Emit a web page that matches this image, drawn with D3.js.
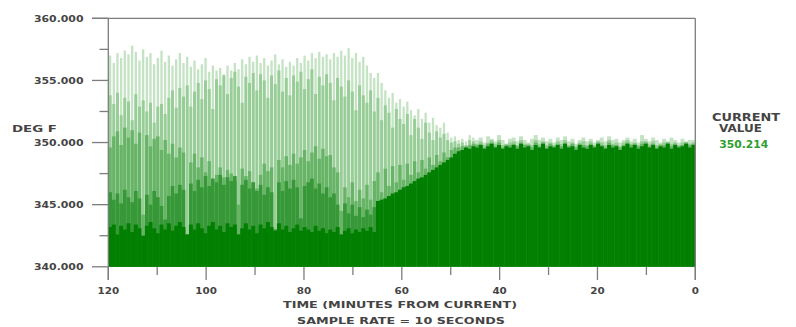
<!DOCTYPE html>
<html>
<head>
<meta charset="utf-8">
<script src="https://cdn.jsdelivr.net/npm/d3@7"></script>
<style>
  body { margin: 0; background: #fff; }
  svg text { font-family: "DejaVu Sans", Verdana, sans-serif; font-weight: bold; fill: #444; }
</style>
</head>
<body>
<svg id="chart" width="796" height="327"></svg>
<script>
// Trend history: one bar per 45 s, oldest (120 min ago) first.
const barMinutes = 0.75;
// From this bar on the loop has settled and the swing bands collapse
const settledFrom = 100;

// Highest reading within each bar interval (°F)
const peak = [
  357.0, 356.4, 357.2, 356.8, 357.4, 357.1, 357.8, 357.3, 356.6, 357.5,
  356.9, 357.2, 356.3, 356.8, 357.4, 356.5, 357.0, 356.2, 356.7, 357.2,
  356.4, 356.9, 356.1, 356.6, 355.9, 356.3, 356.8, 355.7, 356.2, 355.8,
  356.0, 355.5, 356.2, 355.8, 356.4, 355.9, 356.7, 356.3, 356.9, 356.5,
  357.0, 356.4, 356.8, 356.2, 356.6, 357.1, 356.3, 356.7, 356.1, 356.5,
  356.2, 356.8, 356.4, 357.0, 356.6, 357.2, 356.8, 357.3, 356.9, 357.1,
  356.7, 357.2, 356.9, 357.4, 357.0, 357.6, 356.8, 357.2, 356.5, 356.9,
  356.2, 355.6, 355.2, 355.6, 354.8, 354.2, 353.6, 354.0, 353.2, 353.5,
  352.9, 353.3, 352.6, 352.2, 352.7, 351.9, 352.4, 351.6, 352.0, 351.4,
  351.2, 351.6, 350.8, 350.4, 350.5, 350.2, 350.3, 350.1, 350.6, 350.4,
  350.2, 350.4, 350.0, 350.5, 350.3, 350.1, 350.6, 350.2, 349.9, 350.3,
  350.4, 350.1, 350.5, 350.2, 350.0, 350.3, 350.6, 350.2, 350.4, 350.1,
  350.3, 350.0, 350.4, 350.2, 350.5, 350.1, 350.3, 349.9, 350.2, 350.4,
  350.1, 350.3, 350.0, 350.2, 350.4, 350.1, 350.5, 350.2, 350.3, 350.0,
  350.2, 350.4, 350.1, 350.3, 350.0, 350.6, 350.3, 350.1, 350.4, 350.2,
  350.0, 350.3, 350.1, 350.4, 350.2, 350.0, 350.3, 350.1, 350.2, 350.214
];

// Upper quartile of the readings
const upper = [
  353.8, 353.1, 354.0, 352.2, 353.6, 353.3, 351.8, 353.9, 352.9, 353.4,
  352.5, 353.2, 351.6, 352.9, 353.1, 352.3, 353.6, 354.2, 352.8, 354.4,
  353.7, 354.6, 352.9, 354.1, 354.8, 353.5, 355.0, 354.3, 352.7, 355.1,
  354.6, 355.4, 353.9, 355.2, 355.7, 354.5, 353.2, 355.3, 354.8, 355.6,
  354.2, 355.5, 355.0, 353.6, 355.4, 354.7, 355.8, 354.1, 355.2, 353.8,
  355.4, 354.9, 355.7, 354.3, 355.1, 355.9, 353.9, 355.3, 354.6, 355.5,
  354.8, 353.4, 355.2, 354.5, 353.7, 355.0, 354.1, 352.6, 354.6, 353.8,
  353.2, 354.2, 352.5, 353.6, 351.8, 353.0, 352.4, 351.2, 352.7, 351.9,
  351.5, 352.3, 350.6, 351.9, 351.2, 350.3, 351.6, 350.8, 350.2, 350.9,
  350.4, 350.7, 350.2, 350.0, 350.1, 349.9, 350.0, 349.8, 350.2, 350.1,
  349.9, 350.1, 349.8, 350.0, 350.2, 349.9, 350.2, 349.8, 349.9, 350.0,
  350.1, 349.8, 350.2, 349.9, 349.9, 349.8, 350.2, 349.9, 350.1, 349.8,
  350.0, 349.8, 350.1, 349.9, 350.2, 349.8, 350.0, 349.7, 350.0, 350.1,
  349.8, 350.1, 349.8, 350.1, 350.0, 349.8, 350.2, 349.9, 350.0, 349.7,
  350.0, 350.2, 349.9, 350.0, 349.8, 350.1, 350.1, 349.9, 350.1, 349.8,
  349.9, 350.0, 350.0, 349.9, 350.0, 349.8, 350.0, 350.0, 349.9, 350.0
];

// Median of the readings
const middle = [
  349.6, 350.5, 350.9, 349.8, 351.2, 350.4, 351.0, 349.9, 350.8, 344.2,
  350.6, 349.7, 350.3, 350.5, 349.4, 350.2, 349.1, 349.9, 348.8, 349.6,
  349.2, 342.6, 348.4, 349.1, 348.0, 348.8, 347.6, 348.5, 345.9, 347.4,
  348.0, 347.2, 347.8, 347.5, 346.9, 345.0, 347.9, 347.3, 347.7, 346.8,
  346.3, 347.4, 348.3, 347.7, 348.0, 343.0, 348.6, 348.0, 348.9, 348.2,
  349.1, 348.3, 348.8, 349.4, 348.5, 349.2, 349.7, 348.7, 349.5, 348.9,
  349.0, 348.0, 347.6, 344.5, 346.4, 345.6, 346.8, 345.3, 346.2, 345.5,
  346.6, 345.4, 346.9, 347.6, 346.0, 347.9, 346.5, 348.1, 346.8, 348.2,
  347.0, 348.3, 347.4, 348.5, 347.6, 348.6, 347.9, 348.8, 348.2, 349.0,
  348.5, 349.2, 348.8, 349.4, 349.6, 349.6, 349.7, 349.7, 349.8, 349.9,
  349.8, 349.9, 349.6, 349.9, 350.0, 349.7, 350.0, 349.6, 349.8, 349.8,
  349.9, 349.7, 350.0, 349.8, 349.8, 349.6, 350.0, 349.7, 350.0, 349.6,
  349.9, 349.7, 349.9, 349.7, 350.0, 349.7, 349.9, 349.6, 349.9, 349.8,
  349.7, 349.9, 349.7, 350.0, 349.8, 349.6, 350.0, 349.8, 349.8, 349.6,
  349.8, 350.0, 349.8, 349.9, 349.7, 349.9, 350.0, 349.7, 349.9, 349.6,
  349.8, 349.8, 350.0, 349.7, 349.9, 349.7, 349.8, 350.0, 349.8, 349.9
];

// Lower quartile of the swing while the loop was oscillating
const lower = [
  346.0, 345.4, 345.9, 345.1, 346.2, 345.6, 345.2, 346.1, 345.5, 342.5,
  345.8, 345.0, 346.1, 345.6, 344.9, 343.8, 345.7, 346.5, 345.9, 346.6,
  346.2, 342.6, 346.7, 346.1, 347.0, 346.4, 347.3, 346.5, 347.1, 346.8,
  347.4, 346.6, 347.2, 346.9, 347.3, 342.6, 346.6, 347.0, 346.3, 346.8,
  346.1, 346.6, 345.8, 346.4, 346.0, 343.0, 346.8, 346.1, 346.9, 346.3,
  347.0, 346.4, 343.9, 346.5, 346.8, 347.1, 346.3, 346.7, 345.9, 346.4,
  345.6, 345.9, 345.0, 342.6, 345.1, 344.3, 345.0, 344.1, 344.8, 344.0,
  344.6, 344.2, 344.8
];

// Lowest reading within each bar interval
const floor = [
  343.2, 343.4, 342.6, 343.3, 343.0, 343.5, 342.8, 343.4, 343.1, 342.5,
  343.3, 343.6, 343.1, 342.7, 343.4, 343.0, 343.5, 342.9, 343.3, 343.6,
  343.2, 342.6, 343.4, 343.0, 343.5, 343.1, 342.7, 343.3, 343.6, 343.0,
  343.3, 342.8, 343.5, 343.2, 343.4, 342.6, 343.1, 343.5, 343.0, 343.3,
  342.7, 343.4, 343.1, 343.6, 343.2, 342.9, 343.5, 343.0, 343.3, 342.8,
  343.1, 343.4, 342.9, 343.2, 343.0, 342.8, 343.3, 342.9, 343.1, 342.7,
  343.0, 342.8, 343.2, 342.6, 342.9, 343.1, 342.7, 343.0, 342.8, 343.1,
  342.9, 343.2, 342.8, 345.3, 345.4, 345.5, 345.7, 345.9, 346.0, 346.2,
  346.4, 346.5, 346.7, 346.9, 347.1, 347.2, 347.4, 347.6, 347.8, 348.0,
  348.2, 348.4, 348.6, 348.8, 349.1, 349.3, 349.4, 349.6, 349.5, 349.7,
  349.6, 349.8, 349.5, 349.7, 349.9, 349.6, 349.8, 349.5, 349.7, 349.6,
  349.8, 349.5, 349.9, 349.6, 349.7, 349.4, 349.8, 349.6, 349.9, 349.5,
  349.7, 349.6, 349.8, 349.5, 349.9, 349.6, 349.7, 349.4, 349.8, 349.6,
  349.5, 349.8, 349.6, 349.9, 349.7, 349.5, 349.8, 349.6, 349.7, 349.4,
  349.7, 349.9, 349.6, 349.8, 349.5, 349.7, 349.9, 349.6, 349.8, 349.5,
  349.7, 349.6, 349.9, 349.5, 349.8, 349.6, 349.7, 349.9, 349.6, 349.8
];

const yMajorTicks = [340, 345, 350, 355, 360];
const yMinorTicks = [342.5, 347.5, 352.5, 357.5];
const xMajorTicks = [120, 100, 80, 60, 40, 20, 0];
const xMinorTicks = [110, 90, 70, 50, 30, 10];

const yLabel = "DEG F";
const xTitle = "TIME (MINUTES FROM CURRENT)";
const xSubtitle = "SAMPLE RATE = 10 SECONDS";
const currentLines = ["CURRENT", "VALUE"];
const currentValue = peak[peak.length - 1];

const svg = d3.select("#chart");
const x = d3.scaleLinear().domain([120, 0]).range([108.3, 695.3]);
const y = d3.scaleLinear().domain([340, 360]).range([266.8, 18.3]);
const axisColor = "#7d7d7d";

// Layers, lightest drawn first so darker bands sit on top
const layers = [
  { values: peak,   color: "#c3e3c3", frac: 0.62 },
  { values: upper,  color: "#98cd98", frac: 0.82 },
  { values: middle, color: "#67b467", frac: 0.92 },
  { values: lower,  color: "#369836", frac: 1.00 },
  { values: floor,  color: "#007f00", frac: 1.08 }
];

const barX0 = i => x(120 - i * barMinutes);
const barW = i => x(120 - (i + 1) * barMinutes) - x(120 - i * barMinutes);

const plot = svg.append("g");
layers.forEach(layer => {
  const f = i => (i >= settledFrom ? 1.08 : layer.frac);
  plot.append("g").selectAll("rect")
    .data(layer.values)
    .join("rect")
    .attr("x", (d, i) => barX0(i) + barW(i) * (1 - f(i)) / 2)
    .attr("width", (d, i) => barW(i) * f(i))
    .attr("y", d => y(d))
    .attr("height", d => y(340) - y(d))
    .attr("fill", layer.color);
});

// Frame: left axis, top line, right edge
const frame = svg.append("g").attr("stroke", axisColor).attr("stroke-width", 1.3).attr("fill", "none");
frame.append("line").attr("x1", x(120)).attr("x2", x(120)).attr("y1", y(360)).attr("y2", 280);
frame.append("line").attr("x1", x(0)).attr("x2", x(0)).attr("y1", y(360)).attr("y2", 280);
frame.append("line").attr("x1", 92).attr("x2", x(0)).attr("y1", y(360)).attr("y2", y(360));

// Y ticks
frame.selectAll(".ymaj").data(yMajorTicks).join("line")
  .attr("x1", 92).attr("x2", x(120)).attr("y1", d => y(d)).attr("y2", d => y(d));
frame.selectAll(".ymin").data(yMinorTicks).join("line")
  .attr("x1", 99.5).attr("x2", x(120)).attr("y1", d => y(d)).attr("y2", d => y(d));

// X ticks
frame.selectAll(".xmaj").data(xMajorTicks).join("line")
  .attr("x1", d => x(d)).attr("x2", d => x(d)).attr("y1", y(340)).attr("y2", 280);
frame.selectAll(".xmin").data(xMinorTicks).join("line")
  .attr("x1", d => x(d)).attr("x2", d => x(d)).attr("y1", y(340)).attr("y2", 275);

const fmt = d3.format(".3f");
svg.append("g").selectAll("text").data(yMajorTicks).join("text")
  .attr("x", 83.5).attr("y", d => y(d) + 3.5)
  .attr("text-anchor", "end")
  .attr("font-size", 9.5)
  .attr("textLength", 49.5).attr("lengthAdjust", "spacingAndGlyphs")
  .text(d => fmt(d));

svg.append("g").selectAll("text").data(xMajorTicks).join("text")
  .attr("x", d => x(d)).attr("y", 293.5)
  .attr("text-anchor", "middle")
  .attr("font-size", 9.5)
  .attr("textLength", d => String(d).length * 7.2).attr("lengthAdjust", "spacingAndGlyphs")
  .text(d => d);

svg.append("text").attr("x", 12).attr("y", 131.7)
  .attr("font-size", 9.5)
  .attr("textLength", 45).attr("lengthAdjust", "spacingAndGlyphs")
  .text(yLabel);

svg.append("text").attr("x", 400).attr("y", 307.5).attr("text-anchor", "middle")
  .attr("font-size", 9.2)
  .attr("textLength", 234).attr("lengthAdjust", "spacingAndGlyphs")
  .text(xTitle);
svg.append("text").attr("x", 401).attr("y", 323.5).attr("text-anchor", "middle")
  .attr("font-size", 9.2)
  .attr("textLength", 208).attr("lengthAdjust", "spacingAndGlyphs")
  .text(xSubtitle);

const currentX = [746, 740.5];
const currentW = [68, 43];
svg.append("g").selectAll("text").data(currentLines).join("text")
  .attr("x", (d, i) => currentX[i]).attr("y", (d, i) => 121.3 + i * 10.3)
  .attr("text-anchor", "middle")
  .attr("font-size", 9.8)
  .attr("textLength", (d, i) => currentW[i]).attr("lengthAdjust", "spacingAndGlyphs")
  .text(d => d);
svg.append("text").attr("x", 743.8).attr("y", 148.3).attr("text-anchor", "middle")
  .attr("font-size", 9.6)
  .attr("textLength", 49).attr("lengthAdjust", "spacingAndGlyphs")
  .style("fill", "#2e9e2e")
  .text(fmt(currentValue));
</script>
</body>
</html>
